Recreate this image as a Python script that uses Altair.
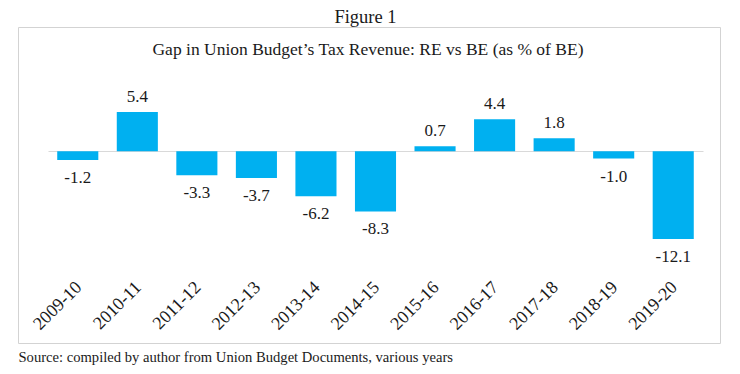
import altair as alt
import pandas as pd

years = ["2009-10", "2010-11", "2011-12", "2012-13", "2013-14", "2014-15",
         "2015-16", "2016-17", "2017-18", "2018-19", "2019-20"]
gap = [-1.2, 5.4, -3.3, -3.7, -6.2, -8.3, 0.7, 4.4, 1.8, -1.0, -12.1]

fig_title = "Figure 1"
chart_title = "Gap in Union Budget\u2019s Tax Revenue: RE vs BE (as % of BE)"
source = "Source: compiled by author from Union Budget Documents, various years"

df = pd.DataFrame({"year": years, "gap": gap})
df["label"] = [f"{v:.1f}" for v in gap]

FONT = "Liberation Serif"
W, H = 655, 186
BAR = "#00B0F0"
TXT = "#1a1a1a"

x = alt.X("year:N", sort=years,
          scale=alt.Scale(paddingInner=0.31, paddingOuter=0.155),
          axis=alt.Axis(labelAngle=-45, domain=False, ticks=False, grid=False,
                        labelFont=FONT, labelFontSize=18, labelColor=TXT,
                        labelPadding=2, labelOffset=-5,
                        title=source, titleFont=FONT, titleFontSize=14.6,
                        titleFontWeight="normal", titleColor=TXT,
                        titleX=-30, titleY=85, titleAlign="left",
                        titleBaseline="alphabetic", titleAngle=0))
y = alt.Y("gap:Q", title=None, scale=alt.Scale(domain=[-17.2, 8.45], nice=False),
          axis=alt.Axis(values=[0], grid=True, gridColor="#D9D9D9", labels=False,
                        domain=False, ticks=False))

base = alt.Chart(df)
one = alt.Chart(pd.DataFrame({"k": [0]}))

box = one.mark_rect(filled=False, stroke="#D3D3D3", strokeWidth=1).encode(
    x=alt.value(-29.5), x2=alt.value(672.5), y=alt.value(-62.5), y2=alt.value(253.5))

t_fig = one.mark_text(font=FONT, fontSize=18.5, color=TXT, align="center",
                      baseline="middle").encode(
    x=alt.value(317.5), y=alt.value(-73), text=alt.value(fig_title))
t_title = one.mark_text(font=FONT, fontSize=17.5, color=TXT, align="center",
                        baseline="middle").encode(
    x=alt.value(320), y=alt.value(-40), text=alt.value(chart_title))

bars = base.mark_bar(color=BAR).encode(x=x, y=y)

pos = base.transform_filter("datum.gap >= 0").mark_text(
    font=FONT, fontSize=17, color=TXT, baseline="middle", dy=-15).encode(
    x=x, y=y, text="label:N")
neg = base.transform_filter("datum.gap < 0").mark_text(
    font=FONT, fontSize=17, color=TXT, baseline="middle", dy=18).encode(
    x=x, y=y, text="label:N")

chart = alt.layer(box, t_fig, t_title, bars, pos, neg).properties(
    width=W, height=H,
    autosize=alt.AutoSizeParams(type="none"),
    padding={"left": 40, "top": 82, "right": 29, "bottom": 90},
).configure_view(strokeWidth=0)

chart.save("out.html", embed_options={"renderer": "svg", "actions": False})
